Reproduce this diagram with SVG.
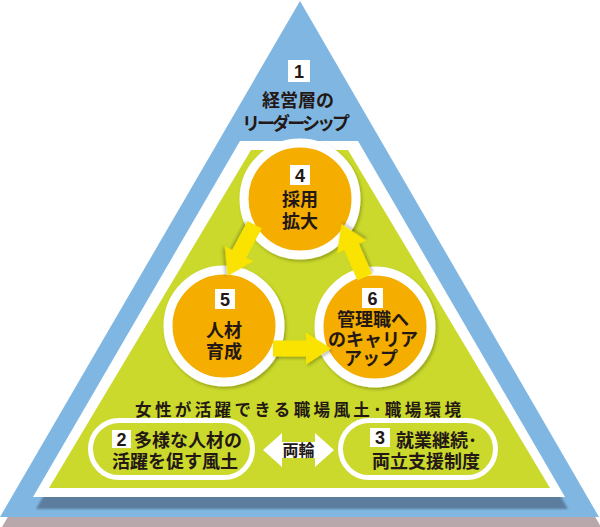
<svg xmlns="http://www.w3.org/2000/svg" width="600" height="527" viewBox="0 0 600 527">
<defs>
<filter id="sh" x="-20%" y="-20%" width="140%" height="140%"><feDropShadow dx="1.5" dy="2" stdDeviation="1.5" flood-color="#000" flood-opacity="0.25"/></filter>
<filter id="blur" x="-5%" y="-5%" width="110%" height="110%"><feGaussianBlur stdDeviation="1"/></filter>
<polygon id="yarrow" points="0,-8 33,-8 33,-16 58,0 33,16 33,8 0,8"/>
</defs>
<style>
.jp{font-family:"Noto Sans CJK JP","Noto Sans CJK SC",sans-serif;font-weight:bold;fill:#231815;font-size:18px}
.mid{text-anchor:middle}
.num{font-family:"Liberation Sans",Arial,sans-serif;font-weight:bold;fill:#231815;font-size:18px;text-anchor:middle}
.box{fill:#fff}
.ring{fill:#f5ad00;stroke:#fff;stroke-width:9}
.pill{fill:none;stroke:#fff;stroke-width:5}
.arrow{fill:#fae300}
</style>
<rect width="600" height="527" fill="#fff"/>
<g id="background">
<polygon points="302,11 2,527 601,527" fill="#b9a8ab"/>
<polygon points="300,1 0,517 599,517" fill="#80b7e2"/>
<polygon points="243,153 361,153 568,509 36,509" fill="#5b7d9e" filter="url(#blur)"/>
<polygon points="240,141 358,141 565,497 33,497" fill="#fff"/>
<polygon points="251,150 348,150 550,488 49,488" fill="#cad92b"/>
</g>
<g id="node1">
<rect class="box" x="288" y="60" width="22" height="22"/>
<text class="num" x="299" y="77.5">1</text>
<text class="jp mid"><tspan x="298" y="107">経営層の</tspan><tspan x="296" y="130" textLength="108" lengthAdjust="spacing">リーダーシップ</tspan></text>
</g>
<g id="node4">
<circle class="ring" cx="300" cy="199" r="56" filter="url(#sh)"/>
<rect class="box" x="290" y="165" width="20" height="20"/>
<text class="num" x="300" y="181.5">4</text>
<text class="jp mid"><tspan x="300" y="206">採用</tspan><tspan x="300" y="228">拡大</tspan></text>
</g>
<g id="node5">
<circle class="ring" cx="224" cy="326" r="56" filter="url(#sh)"/>
<rect class="box" x="215" y="289" width="20" height="20"/>
<text class="num" x="225" y="305.5">5</text>
<text class="jp mid"><tspan x="224" y="337">人材</tspan><tspan x="224" y="358">育成</tspan></text>
</g>
<g id="node6">
<circle class="ring" cx="375" cy="327" r="56" filter="url(#sh)"/>
<rect class="box" x="362" y="288" width="21" height="20"/>
<text class="num" x="372.5" y="304.5">6</text>
<text class="jp mid"><tspan x="373" y="326">管理職へ</tspan><tspan x="373" y="346">のキャリア</tspan><tspan x="371" y="365">アップ</tspan></text>
</g>
<g id="caption">
<text class="jp mid" x="298" y="416" style="font-size:16.5px" textLength="326" lengthAdjust="spacing">女性が活躍できる職場風土･職場環境</text>
</g>
<g id="node2">
<rect class="pill" x="90.5" y="420.5" width="162" height="57" rx="28.5"/>
<rect class="box" x="112" y="430" width="19" height="18"/>
<text class="num" x="121.5" y="445.5">2</text>
<text class="jp"><tspan x="134" y="447">多様な人材の</tspan><tspan x="112" y="468">活躍を促す風土</tspan></text>
</g>
<g id="node3">
<rect class="pill" x="340.5" y="420.5" width="155" height="57" rx="28.5"/>
<rect class="box" x="370" y="428" width="20" height="19"/>
<text class="num" x="380" y="444">3</text>
<text class="jp"><tspan x="396" y="447">就業継続･</tspan><tspan x="372" y="468">両立支援制度</tspan></text>
</g>
<g id="connectors">
<use href="#yarrow" class="arrow" filter="url(#sh)" transform="translate(254.7,224.7) rotate(118)"/>
<use href="#yarrow" class="arrow" filter="url(#sh)" transform="translate(364.8,277.2) rotate(-113.6)"/>
<use href="#yarrow" class="arrow" filter="url(#sh)" transform="translate(273,348.5)"/>
<polygon points="263,450 282,433 282,442 315,442 315,433 334,450 315,467 315,458 282,458 282,467" fill="#fff"/>
<text class="jp mid" x="298.5" y="456" style="font-size:16px">両輪</text>
</g>
</svg>
